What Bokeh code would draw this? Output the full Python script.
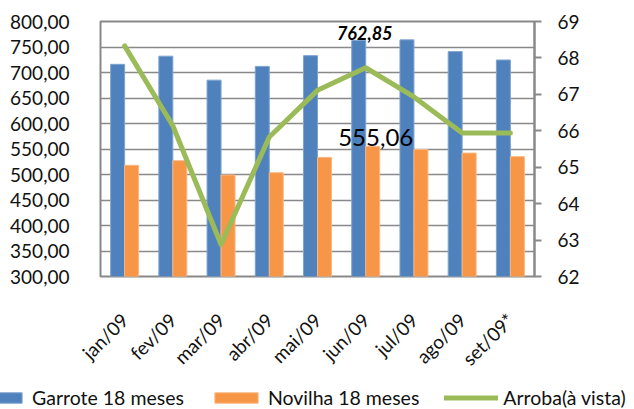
import math
from bokeh.plotting import figure
from bokeh.layouts import column
from bokeh.models import (ColumnDataSource, FactorRange, Range1d, LinearAxis,
                          CustomJSTickFormatter, Legend, LegendItem, FixedTicker)
from bokeh.transform import dodge
from bokeh.core.properties import value
from bokeh.embed import file_html
from bokeh.resources import INLINE

months = ["jan/09", "fev/09", "mar/09", "abr/09", "mai/09", "jun/09", "jul/09", "ago/09", "set/09*"]
garrote = [716.0, 732.0, 685.0, 712.0, 733.0, 762.85, 764.0, 741.0, 724.5]
novilha = [518.0, 527.0, 499.0, 503.5, 533.5, 555.06, 549.0, 542.0, 535.0]
arroba = [68.33, 66.14, 62.88, 65.83, 67.11, 67.73, 66.93, 65.94, 65.94]
left_ticks = [300, 350, 400, 450, 500, 550, 600, 650, 700, 750, 800]
right_ticks = [62, 63, 64, 65, 66, 67, 68, 69]
names = ["Garrote 18 meses", "Novilha 18 meses", "Arroba(à vista)"]
label_month = "jun/09"

FONT = "Lato"
GRAY = "#898989"
BLUE = "#4F81BD"
ORANGE = "#F79646"
GREEN = "#9BBB59"
TXT = "#111111"

src = ColumnDataSource(dict(x=months, garrote=garrote, novilha=novilha, arroba=arroba))

p = figure(width=634, height=380, x_range=FactorRange(*months, range_padding=0),
           y_range=Range1d(left_ticks[0], left_ticks[-1]),
           output_backend="svg", toolbar_location=None, title=None,
           min_border_left=100, min_border_right=100, min_border_top=21, min_border_bottom=92)
p.frame_align = False
p.extra_y_ranges = {"right": Range1d(right_ticks[0], right_ticks[-1])}

p.outline_line_color = GRAY
p.outline_line_width = 2
p.background_fill_color = "white"
p.border_fill_color = "white"

p.xgrid.grid_line_color = None
p.ygrid.grid_line_color = GRAY
p.ygrid.grid_line_width = 1.5
p.yaxis.ticker = FixedTicker(ticks=left_ticks)

bar_kw = dict(bottom=left_ticks[0], width=0.29, source=src, line_width=1)
blue_kw = dict(fill_color=BLUE, line_color="#7FA3D0")
orange_kw = dict(fill_color=ORANGE, line_color="#FAB782")
line_kw = dict(line_color=GREEN, line_width=5, line_join="round", line_cap="round")

p.vbar(x=dodge("x", -0.145, range=p.x_range), top="garrote", **blue_kw, **bar_kw)
p.vbar(x=dodge("x", 0.145, range=p.x_range), top="novilha", **orange_kw, **bar_kw)
p.line(x="x", y="arroba", source=src, y_range_name="right", **line_kw)

# left axis
ya = p.yaxis[0]
ya.axis_line_color = None
ya.major_tick_line_color = None
ya.minor_tick_line_color = None
ya.major_label_standoff = 25
ya.major_label_text_font = FONT
ya.major_label_text_font_size = "19px"
ya.major_label_text_color = TXT
ya.formatter = CustomJSTickFormatter(code="return tick.toFixed(2).replace('.', ',');")

# right axis
ra = LinearAxis(y_range_name="right", ticker=FixedTicker(ticks=right_ticks))
ra.axis_line_color = GRAY
ra.axis_line_width = 2
ra.major_tick_line_color = GRAY
ra.major_tick_line_width = 2
ra.major_tick_out = 7
ra.major_tick_in = 0
ra.minor_tick_line_color = None
ra.major_label_standoff = 16
ra.major_label_text_font = FONT
ra.major_label_text_font_size = "19px"
ra.major_label_text_color = TXT
p.add_layout(ra, "right")

# x axis
xa = p.xaxis[0]
xa.axis_line_color = None
xa.major_tick_line_color = None
xa.minor_tick_line_color = None
xa.major_label_orientation = math.pi / 4
xa.major_label_standoff = 34
xa.major_label_text_font = FONT
xa.major_label_text_font_size = "19px"
xa.major_label_text_color = TXT

# data labels
i = months.index(label_month)
s1 = ColumnDataSource(dict(x=[label_month], y=[garrote[i]],
                           t=[f"{garrote[i]:.2f}".replace(".", ",")]))
s2 = ColumnDataSource(dict(x=[label_month], y=[novilha[i]],
                           t=[f"{novilha[i]:.2f}".replace(".", ",")]))
p.text(x=dodge("x", -0.145, range=p.x_range), y="y", text="t", source=s1,
       text_font=value(FONT), text_font_size="18px", text_font_style="bold italic",
       text_align="center", text_baseline="bottom", x_offset=6,
       text_color="#000000")
p.text(x=dodge("x", 0.145, range=p.x_range), y="y", text="t", source=s2,
       text_font=value(FONT), text_font_size="24px", text_font_style="normal",
       text_align="center", text_baseline="bottom", x_offset=3,
       text_color="#000000")

# legend strip: a second canvas whose y range lies far above the data,
# so its renderers fall outside its frame and only the legend swatches show
lg = figure(width=634, height=29, x_range=FactorRange(*months), y_range=Range1d(1000, 2000),
            output_backend="svg", toolbar_location=None, title=None,
            x_axis_location=None, y_axis_location=None, min_border=0)
lg.frame_align = False
lg.outline_line_color = None
lg.grid.grid_line_color = None
lb1 = lg.vbar(x=dodge("x", -0.145, range=lg.x_range), top="garrote", **blue_kw, **bar_kw)
lb2 = lg.vbar(x=dodge("x", 0.145, range=lg.x_range), top="novilha", **orange_kw, **bar_kw)
ll1 = lg.line(x="x", y="arroba", source=src, **line_kw)

legend = Legend(items=[LegendItem(label=names[0], renderers=[lb1]),
                       LegendItem(label=names[1], renderers=[lb2]),
                       LegendItem(label=names[2], renderers=[ll1])],
                orientation="horizontal", location=(-27, 0),
                label_text_font=FONT, label_text_font_size="19.5px", label_text_color=TXT,
                glyph_width=54, glyph_height=13, label_height=20, label_standoff=5,
                spacing=25, padding=0, margin=0, border_line_color=None,
                background_fill_alpha=0)
lg.add_layout(legend, "center")

layout = column(p, lg, spacing=0)
open("out.html", "w").write(file_html(layout, INLINE))
